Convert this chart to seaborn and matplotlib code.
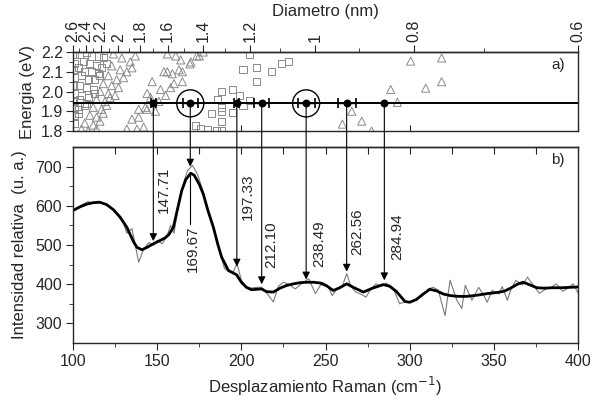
import numpy as np
import pandas as pd
import seaborn as sns
import matplotlib
matplotlib.use("Agg")
import matplotlib.pyplot as plt
from matplotlib.patches import ConnectionPatch

# espectro Raman (crudo y suavizado)
raw_w = [100, 103, 106, 109, 112, 115, 118, 121, 124, 127, 130, 132, 135, 137, 139,
         142, 145, 148, 150, 153, 156, 158, 160, 163, 166, 168, 171, 174, 177, 180,
         183, 186, 188, 190, 193, 195, 197.5, 200, 203, 206, 209, 212, 215, 219, 222,
         225, 228, 232, 236, 240, 244, 248, 251, 254, 257, 260, 262.6, 265, 268, 271,
         274, 277, 280, 283, 286, 290, 294, 297, 300, 304, 308, 311, 314, 317, 321,
         324, 328, 331, 333, 337, 341, 344, 346, 349, 353, 355, 358, 360, 363, 367,
         370, 373, 377, 381, 384, 387, 391, 394, 397, 400]
raw_I = [588, 597, 604, 611, 606, 612, 607, 600, 592, 574, 555, 530, 542, 500, 456,
         490, 506, 500, 512, 503, 525, 550, 530, 612, 662, 690, 703, 680, 640, 595,
         550, 500, 470, 440, 432, 430, 452, 410, 393, 390, 392, 392, 378, 355, 395,
         405, 400, 388, 402, 414, 376, 405, 398, 371, 390, 395, 427, 395, 380, 375,
         367, 388, 401, 395, 403, 392, 350, 355, 355, 360, 372, 388, 392, 385, 320,
         410, 359, 338, 397, 359, 392, 372, 354, 384, 375, 394, 359, 385, 410, 398,
         418, 400, 377, 388, 392, 401, 382, 390, 401, 378]

smooth_w = [100, 104, 108, 112, 116, 120, 124, 128, 132, 136, 138, 141, 144, 147.7,
            151, 154.7, 157, 159.6, 162, 164.6, 167, 169.9, 172, 175, 177.4, 180,
            183.4, 186, 188.3, 192.3, 197.2, 200, 203, 206, 209, 212, 215, 219, 223,
            227, 231, 235, 239, 243, 247, 251, 254.6, 258, 262.6, 267, 272.5, 278,
            284.3, 288, 292, 297.2, 300, 304, 308, 312, 316, 320, 324, 329, 334, 340,
            346, 352, 356, 360, 364, 367.5, 371, 375.5, 380, 385, 390, 395, 400]
smooth_I = [588, 597, 604, 608, 609, 603, 590, 571, 545, 508, 494, 488, 494, 503,
            510, 518, 527, 545, 590, 639, 667, 683, 678, 655, 630, 590,
            545, 502, 469, 435, 424, 405, 392, 386, 387, 388, 381, 380, 390,
            397, 401, 404, 405, 405, 403, 395, 384, 390, 401, 391, 380, 390,
            399, 395, 382, 356, 354, 361, 375, 387, 383, 375, 371, 369, 369, 372,
            376, 379, 382, 390, 400, 405, 399, 391, 390, 391, 391, 392, 393]

# picos asignados
peak_w = [147.71, 169.67, 197.33, 212.10, 238.49, 262.56, 284.94]
peak_labels = ["147.71", "169.67", "197.33", "212.10", "238.49", "262.56", "284.94"]
peak_I = [510, 700, 445, 400, 412, 432, 410]
peak_err = [1.5, 4.5, 1.5, 4.5, 5.0, 5.3, 0.0]
circled_w = [169.67, 238.49]
laser_E = 1.94

# grafico de Kataura
sq_w = [101, 104, 108, 111, 115, 118,
        101, 106, 110, 114, 117, 120,
        100, 103, 107, 111, 115,
        101, 105, 109, 113, 116,
        100, 104, 108, 112,
        101, 105, 109, 113,
        100, 104, 108,
        101, 103, 107,
        101, 103,
        101,
        205, 201, 209, 209, 218, 224, 228,
        188, 195, 199, 186, 205, 201, 195, 182, 188, 188, 188,
        172.5, 176, 180, 185, 188]
sq_E = [2.19, 2.19, 2.20, 2.18, 2.18, 2.17,
        2.14, 2.15, 2.14, 2.13, 2.12, 2.14,
        2.11, 2.12, 2.10, 2.10, 2.09,
        2.07, 2.08, 2.06, 2.06, 2.08,
        2.03, 2.03, 2.02, 2.01,
        1.99, 1.98, 1.97, 1.99,
        1.95, 1.96, 1.94,
        1.92, 1.91, 1.93,
        1.88, 1.89,
        1.84,
        2.186, 2.11, 2.12, 2.05, 2.10, 2.14, 2.15,
        2.00, 2.01, 1.98, 1.96, 1.955, 1.93, 1.895, 1.89, 1.90, 1.92, 1.85,
        1.83, 1.815, 1.805, 1.80, 1.80]

tri_w = [124, 129, 134, 137, 123, 128, 132, 135, 121, 126, 130, 118, 123, 127,
         116, 121, 125, 114, 119, 122, 112, 117, 120, 110, 114, 118, 107, 112, 116,
         105, 109, 114,
         156, 161, 164, 170, 175, 154, 156, 163, 159, 147, 152, 158, 165, 160,
         146, 151, 144, 155, 139, 144, 149, 143, 135, 139, 132, 138, 142,
         169.5, 173.5, 177.4, 165,
         300.6, 319, 319, 288.7, 309.5, 292.7, 265.6, 260, 271.5, 277.4]
tri_E = [2.19, 2.17, 2.15, 2.18, 2.13, 2.11, 2.10, 2.12, 2.08, 2.06, 2.07, 2.04, 2.03, 2.02,
         2.00, 1.99, 1.98, 1.96, 1.95, 1.97, 1.92, 1.91, 1.93, 1.88, 1.87, 1.89, 1.84, 1.83, 1.85,
         1.81, 1.80, 1.81,
         2.19, 2.18, 2.16, 2.15, 2.18, 2.10, 2.10, 2.11, 2.09, 2.05, 2.01, 2.02, 2.05, 2.04,
         1.97, 1.95, 1.99, 1.98, 1.91, 1.91, 1.90, 1.92, 1.86, 1.87, 1.81, 1.81, 1.82,
         2.14, 2.18, 2.20, 2.10,
         2.154, 2.17, 2.05, 2.01, 2.017, 1.945, 1.90, 1.835, 1.85, 1.80]

diam_major = [2.6, 2.4, 2.2, 2.0, 1.8, 1.6, 1.4, 1.2, 1.0, 0.8, 0.6]
diam_labels = ["2.6", "2.4", "2.2", "2", "1.8", "1.6", "1.4", "1.2", "1", "0.8", "0.6"]
diam_minor = [2.5, 2.3, 2.1, 1.9, 1.7, 1.5, 1.3, 1.1, 0.9, 0.7]


def w_to_d(w):
    w = np.asarray(w, dtype=float)
    with np.errstate(divide="ignore", invalid="ignore"):
        return 234.0 / (w - 10.0)


def d_to_w(d):
    d = np.asarray(d, dtype=float)
    with np.errstate(divide="ignore", invalid="ignore"):
        return 234.0 / d + 10.0


sns.set_style("ticks")
plt.rcParams["font.family"] = ["Liberation Sans", "DejaVu Sans"]
plt.rcParams["axes.linewidth"] = 1.0

fig = plt.figure(figsize=(5.94, 4.07), dpi=100)
ax1 = fig.add_axes([0.1229, 0.6781, 0.8502, 0.1941])
ax2 = fig.add_axes([0.1229, 0.1572, 0.8502, 0.4816])

# ---- panel a)
gris = "#8a8a8a"
kat_sq = pd.DataFrame({"w": sq_w, "E": sq_E})
kat_tri = pd.DataFrame({"w": tri_w, "E": tri_E})
sns.scatterplot(data=kat_sq, x="w", y="E", ax=ax1, marker="s", s=26,
                facecolor="none", edgecolor=gris, linewidth=0.7, zorder=2)
sns.scatterplot(data=kat_tri, x="w", y="E", ax=ax1, marker="^", s=34,
                facecolor="none", edgecolor=gris, linewidth=0.7, zorder=2)
ax1.axhline(laser_E, color="black", lw=1.4, zorder=3)

con_err = [e > 0 for e in peak_err]
err_w = [w for w, c in zip(peak_w, con_err) if c]
err_x = [e for e, c in zip(peak_err, con_err) if c]
ax1.errorbar(err_w, [laser_E] * len(err_w), xerr=err_x, fmt="none",
             ecolor="black", elinewidth=1.0, capsize=3.5, capthick=1.2, zorder=4)
ax1.scatter(peak_w, [laser_E] * len(peak_w), s=22, color="black", zorder=5)
ax1.scatter(circled_w, [laser_E] * len(circled_w), s=380, facecolors="none",
            edgecolors="black", linewidths=1.0, zorder=4)

ax1.set_xlim(100, 400)
ax1.set_ylim(1.8, 2.2)
ax1.set_xticks([100, 200, 300, 400])
ax1.tick_params(axis="x", direction="in", length=4, labelbottom=False)
ax1.set_yticks([1.8, 1.9, 2.0, 2.1, 2.2])
ax1.set_yticklabels(["1.8", "1.9", "2.0", "2.1", "2.2"])
ax1.set_yticks([1.85, 1.95, 2.05, 2.15], minor=True)
ax1.tick_params(axis="y", which="major", direction="out", length=5, labelsize=11.5, pad=2)
ax1.tick_params(axis="y", which="minor", direction="out", length=3)
ax1.set_xlabel("")
ax1.set_ylabel("Energia (eV)", fontsize=12, labelpad=4)
ax1.text(0.974, 0.83, "a)", transform=ax1.transAxes, ha="right", va="center", fontsize=11)

sec = ax1.secondary_xaxis("top", functions=(w_to_d, d_to_w))
sec.set_xticks(diam_major)
sec.set_xticklabels(diam_labels, rotation=90)
sec.set_xticks(diam_minor, minor=True)
sec.tick_params(which="major", direction="out", length=5, labelsize=11.5, pad=2)
sec.tick_params(which="minor", direction="out", length=3)
sec.set_xlabel("Diametro (nm)", fontsize=12, labelpad=3)

# ---- panel b)
sns.lineplot(x=raw_w, y=raw_I, ax=ax2, color="#7a7a7a", lw=0.8, estimator=None, sort=False)
sns.lineplot(x=smooth_w, y=smooth_I, ax=ax2, color="black", lw=2.0, estimator=None, sort=False)

ax2.set_xlim(100, 400)
ax2.set_ylim(250, 750)
ax2.set_xticks([100, 150, 200, 250, 300, 350, 400])
ax2.set_xticks([125, 175, 225, 275, 325, 375], minor=True)
ax2.set_yticks([300, 400, 500, 600, 700])
ax2.set_yticks([350, 450, 550, 650], minor=True)
ax2.tick_params(which="major", direction="out", length=5, labelsize=11.5, pad=3)
ax2.tick_params(which="minor", direction="out", length=3)
ax2.set_xlabel("Desplazamiento Raman (cm$^{-1}$)", fontsize=12, labelpad=4)
ax2.set_ylabel("Intensidad relativa  (u. a.)", fontsize=12, labelpad=6)
ax2.text(0.974, 0.935, "b)", transform=ax2.transAxes, ha="right", va="center", fontsize=11)

top2 = ax2.secondary_xaxis("top")
top2.set_xticks([125, 150, 175, 200, 225, 250, 275, 300, 325, 350, 375])
top2.tick_params(direction="in", length=5, labeltop=False)

# flechas que unen los picos con la energia del laser
label_y = [640, 490, 622, 500, 504, 533, 521]
label_dx = [6.5, 1.8, 6.5, 5.5, 7.5, 6.0, 7.5]
for w, tip, lab, ly, dx in zip(peak_w, peak_I, peak_labels, label_y, label_dx):
    con = ConnectionPatch(xyA=(w, laser_E), coordsA=ax1.transData,
                          xyB=(w, tip), coordsB=ax2.transData,
                          arrowstyle="-|>", mutation_scale=11, lw=0.8,
                          color="black", shrinkA=0, shrinkB=0, zorder=5)
    fig.add_artist(con)
    ax2.text(w + dx, ly, lab, rotation=90, ha="center", va="center", fontsize=11)

# linea guia bajo el pico principal
ax2.plot([peak_w[1], peak_w[1]], [683, 553], color="black", lw=0.8)

fig.savefig("out.png", dpi=100)
